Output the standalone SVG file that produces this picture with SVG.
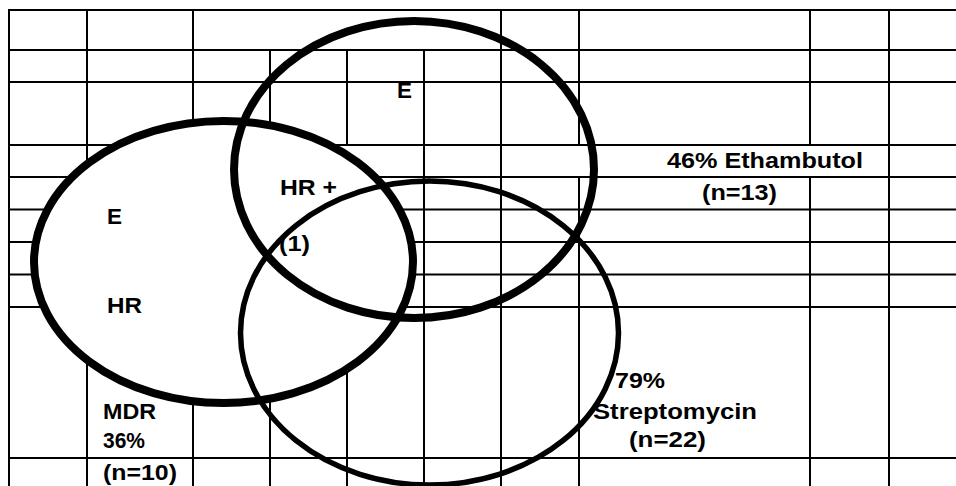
<svg xmlns="http://www.w3.org/2000/svg" width="956" height="486" viewBox="0 0 956 486">
<style>
.grid line{stroke:#000;stroke-width:2}
.set{fill:none;stroke:#000}
.lbl{font-family:"Liberation Sans",Arial,sans-serif;font-weight:bold;font-size:22px;fill:#000}
</style>
<rect x="0" y="0" width="956" height="486" fill="#fff"/>
<g id="table-grid" class="grid">
<line x1="8" y1="10" x2="956" y2="10"/>
<line x1="8" y1="50" x2="956" y2="50"/>
<line x1="8" y1="82" x2="956" y2="82"/>
<line x1="8" y1="145" x2="956" y2="145"/>
<line x1="8" y1="177" x2="956" y2="177"/>
<line x1="8" y1="209.5" x2="956" y2="209.5"/>
<line x1="8" y1="242" x2="956" y2="242"/>
<line x1="8" y1="274.5" x2="956" y2="274.5"/>
<line x1="8" y1="307" x2="956" y2="307"/>
<line x1="8" y1="458" x2="956" y2="458"/>
<line x1="9" y1="9" x2="9" y2="486"/>
<line x1="87" y1="9" x2="87" y2="486"/>
<line x1="193" y1="9" x2="193" y2="486"/>
<line x1="270" y1="50" x2="270" y2="486"/>
<line x1="347" y1="50" x2="347" y2="145"/>
<line x1="347" y1="153" x2="347" y2="486"/>
<line x1="424" y1="50" x2="424" y2="486"/>
<line x1="501" y1="9" x2="501" y2="486"/>
<line x1="579" y1="9" x2="579" y2="145"/>
<line x1="579" y1="177" x2="579" y2="486"/>
<line x1="810" y1="9" x2="810" y2="145"/>
<line x1="810" y1="177" x2="810" y2="486"/>
<line x1="889" y1="9" x2="889" y2="486"/>
</g>
<g id="set-mdr">
<ellipse cx="223.5" cy="262" rx="189.5" ry="141" fill="#fff" stroke="#000" stroke-width="8"/>
</g>
<g id="set-ethambutol">
<ellipse class="set" cx="414" cy="169.5" rx="180" ry="148.5" stroke-width="8"/>
</g>
<g id="set-streptomycin">
<ellipse class="set" cx="429.5" cy="333" rx="189" ry="152" stroke-width="5.5"/>
</g>
<g id="labels" class="lbl">
<text x="397" y="98" textLength="15" lengthAdjust="spacingAndGlyphs">E</text>
<text x="107" y="224" textLength="15" lengthAdjust="spacingAndGlyphs">E</text>
<text x="107" y="313" textLength="35" lengthAdjust="spacingAndGlyphs">HR</text>
<text x="280" y="195" textLength="57" lengthAdjust="spacingAndGlyphs">HR +</text>
<text x="279" y="251" textLength="31" lengthAdjust="spacingAndGlyphs">(1)</text>
<text x="667" y="168" textLength="196" lengthAdjust="spacingAndGlyphs">46% Ethambutol</text>
<text x="702" y="200" textLength="75" lengthAdjust="spacingAndGlyphs">(n=13)</text>
<text x="615" y="388" textLength="50" lengthAdjust="spacingAndGlyphs">79%</text>
<text x="593" y="419" textLength="164" lengthAdjust="spacingAndGlyphs">Streptomycin</text>
<text x="629" y="447" textLength="77" lengthAdjust="spacingAndGlyphs">(n=22)</text>
<text x="103" y="419" textLength="53" lengthAdjust="spacingAndGlyphs">MDR</text>
<text x="103" y="448" textLength="42" lengthAdjust="spacingAndGlyphs">36%</text>
<text x="103" y="480" textLength="74" lengthAdjust="spacingAndGlyphs">(n=10)</text>
</g>
</svg>
